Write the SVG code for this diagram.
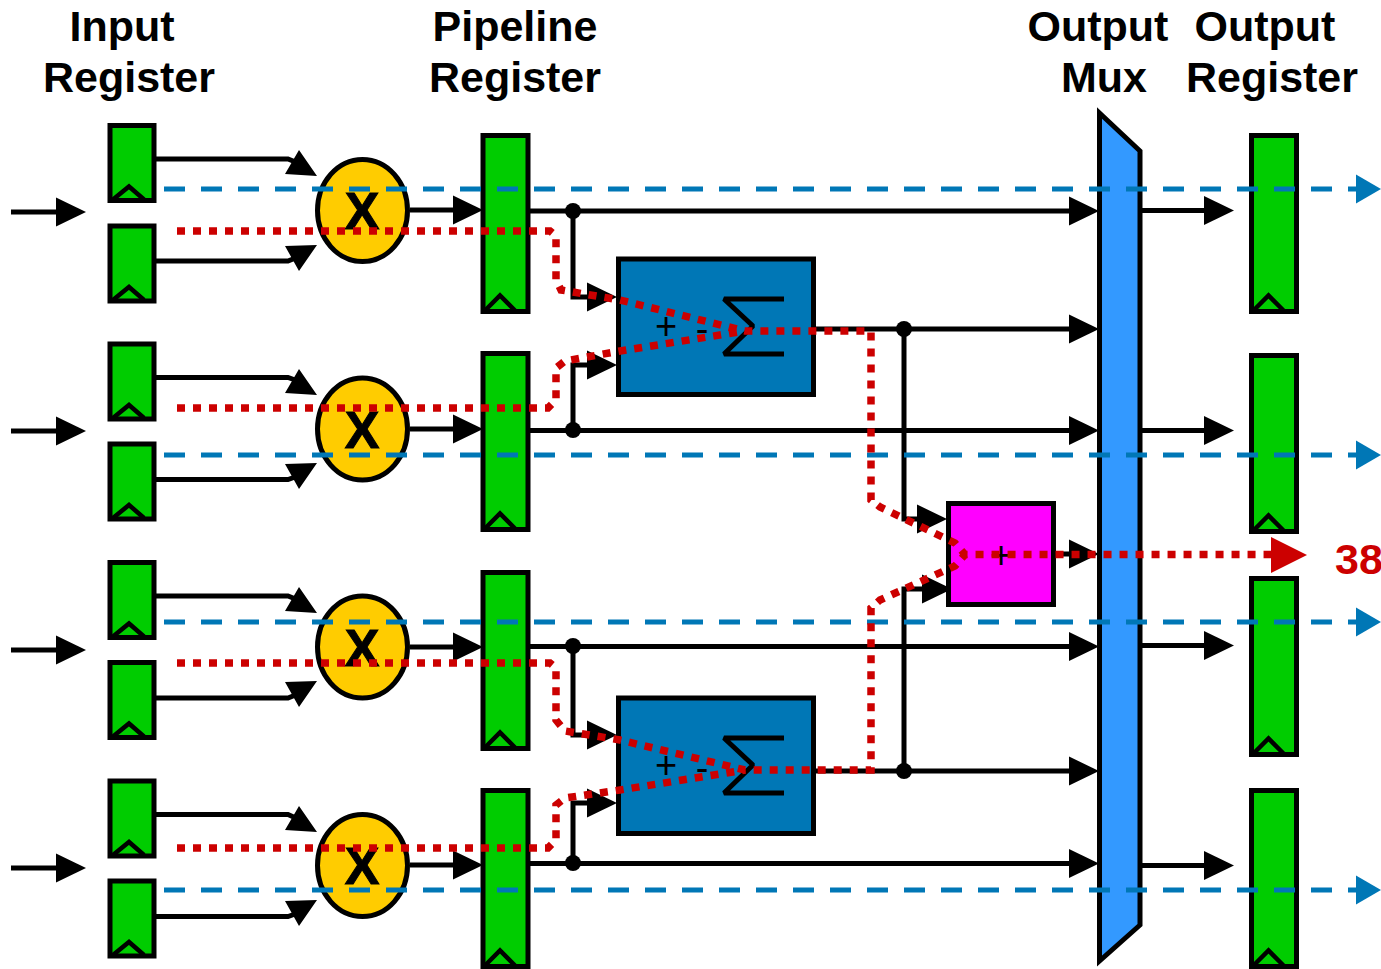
<svg xmlns="http://www.w3.org/2000/svg" width="1381" height="969" viewBox="0 0 1381 969">
<style>
.t{font-family:"Liberation Sans",Arial,sans-serif;font-weight:700;font-size:43px;fill:#000;text-anchor:middle}
.x{font-size:52px;stroke:#000;stroke-width:1}
.s{font-family:"Liberation Sans",Arial,sans-serif;font-size:38px;fill:#000;text-anchor:middle}
.w{fill:none;stroke:#000;stroke-width:5}
.reg{fill:#00cc00;stroke:#000;stroke-width:5}
.ck{fill:none;stroke:#000;stroke-width:4.5}
.mul{fill:#ffcc00;stroke:#000;stroke-width:5}
.sum{fill:#0077b6;stroke:#000;stroke-width:5}
.sig{fill:none;stroke:#000;stroke-width:5;stroke-linejoin:bevel}
.red{fill:none;stroke:#cc0000;stroke-width:7.5;stroke-dasharray:8 8}
.blue{fill:none;stroke:#0077b6;stroke-width:5;stroke-dasharray:21 16}
</style>
<defs>
<path id="h" d="M-30,-14.500L0,0L-30,14.500Z" fill="#000"/>
<path id="hb" d="M-25,-14.500L0,0L-25,14.500Z" fill="#0077b6"/>
<g id="r1"><rect class="reg" x="110" y="0" width="44" height="75"/><polyline class="ck" points="113,74 129,61 144,74"/></g>
<g id="r2"><rect class="reg" x="0" y="0" width="45" height="176"/><polyline class="ck" points="2,175 17,160 32,175"/></g>
<g id="sumb"><rect class="sum" x="618.500" y="0" width="195" height="135.500"/><polyline class="sig" points="784,40 724,40 753,67 724,95 784,95"/></g>
</defs>
<g id="titles">
<text class="t" x="122" y="41">Input</text><text class="t" x="129" y="92">Register</text>
<text class="t" x="515" y="41">Pipeline</text><text class="t" x="515" y="92">Register</text>
<text class="t" x="1098" y="41">Output</text><text class="t" x="1104" y="92">Mux</text>
<text class="t" x="1265" y="41">Output</text><text class="t" x="1272" y="92">Register</text>
</g>
<g id="connectors">
<path class="w" d="M11,212H58M11,431H58M11,650H58M11,868H58"/>
<use href="#h" x="86" y="212"/><use href="#h" x="86" y="431"/><use href="#h" x="86" y="650"/><use href="#h" x="86" y="868"/>
<path class="w" d="M155,159H288L298,163M155,261H288L298,257M155,377.500H288L298,381M155,479.500H288L298,476M155,596H288L298,600M155,698H288L298,694M155,814.500H288L298,819M155,916.500H288L298,913"/>
<path d="M317,176L299,150L285,174ZM317,245L299,271L285,246Z"/>
<path d="M317,395L299,369L285,393ZM317,463L299,489L285,464Z"/>
<path d="M317,613L299,587L285,611ZM317,681L299,707L285,682Z"/>
<path d="M317,832L299,806L285,830ZM317,900L299,926L285,901Z"/>
<path class="w" d="M410,210H456M410,429H456M410,647H456M410,865H456"/>
<use href="#h" x="483" y="210"/><use href="#h" x="483" y="429"/><use href="#h" x="483" y="647"/><use href="#h" x="483" y="865"/>
<path class="w" d="M530,211H1072M530,430.500H1072M530,646.500H1072M530,863.500H1072M816,329H1072M816,771H1072M573,211V297H592M573,430V365H592M573,646V735H592M573,863V803H592M904,329V519H922M904,771V589H926M1056,554H1072"/>
<use href="#h" x="1099" y="211"/><use href="#h" x="1099" y="430.500"/><use href="#h" x="1099" y="646.500"/><use href="#h" x="1099" y="863.500"/><use href="#h" x="1099" y="329"/><use href="#h" x="1099" y="771"/><use href="#h" x="1099" y="554"/>
<use href="#h" x="617" y="297"/><use href="#h" x="617" y="365"/><use href="#h" x="617" y="735"/><use href="#h" x="617" y="803"/>
<use href="#h" x="947" y="519"/><use href="#h" x="952" y="589"/>
<path class="w" d="M1142,210.500H1206M1142,430.500H1206M1142,645.500H1206M1142,865.500H1206"/>
<use href="#h" x="1234" y="210.500"/><use href="#h" x="1234" y="430.500"/><use href="#h" x="1234" y="645.500"/><use href="#h" x="1234" y="865.500"/>
<circle cx="573" cy="211" r="8"/><circle cx="573" cy="430" r="8"/><circle cx="573" cy="646" r="8"/><circle cx="573" cy="863" r="8"/><circle cx="904" cy="329" r="8"/><circle cx="904" cy="771" r="8"/>
</g>
<g id="input-registers">
<use id="ir1" href="#r1" y="125.500"/><use id="ir2" href="#r1" y="226"/><use id="ir3" href="#r1" y="344"/><use id="ir4" href="#r1" y="444"/><use id="ir5" href="#r1" y="562.500"/><use id="ir6" href="#r1" y="662.500"/><use id="ir7" href="#r1" y="781"/><use id="ir8" href="#r1" y="881"/>
</g>
<g id="multipliers">
<g id="m1"><ellipse class="mul" cx="362.500" cy="210.500" rx="45" ry="51"/><text class="t x" x="362" y="229">X</text></g>
<g id="m2"><ellipse class="mul" cx="362.500" cy="429" rx="45" ry="51"/><text class="t x" x="362" y="447.500">X</text></g>
<g id="m3"><ellipse class="mul" cx="362.500" cy="647" rx="45" ry="51"/><text class="t x" x="362" y="665.500">X</text></g>
<g id="m4"><ellipse class="mul" cx="362.500" cy="865.500" rx="45" ry="51"/><text class="t x" x="362" y="884">X</text></g>
</g>
<g id="pipeline-registers">
<use id="p1" href="#r2" x="483" y="135.500"/><use id="p2" href="#r2" x="483" y="353.500"/><use id="p3" href="#r2" x="483" y="572.500"/><use id="p4" href="#r2" x="483" y="790.500"/>
</g>
<g id="sums">
<g id="s1"><use href="#sumb" y="259"/><text class="s" x="666" y="339">+</text><text class="s" x="702" y="342">-</text></g>
<g id="s2"><use href="#sumb" y="698"/><text class="s" x="666" y="778">+</text><text class="s" x="702" y="781">-</text></g>
</g>
<g id="adder"><rect x="948.500" y="503.500" width="105" height="101" fill="#ff00ff" stroke="#000" stroke-width="5"/><text class="s" x="1001" y="568">+</text></g>
<g id="mux"><polygon points="1099.500,113 1140,151 1140,925 1099.500,961" fill="#3399ff" stroke="#000" stroke-width="5"/></g>
<g id="output-registers">
<use id="o1" href="#r2" x="1251.500" y="135.500"/><use id="o2" href="#r2" x="1251.500" y="355.500"/><use id="o3" href="#r2" x="1251.500" y="578.500"/><use id="o4" href="#r2" x="1251.500" y="790.500"/>
</g>
<g id="paths">
<path class="blue" d="M164,189H1358M164,455H1358M164,622H1358M164,890H1358"/>
<use href="#hb" x="1381" y="189"/><use href="#hb" x="1381" y="455"/><use href="#hb" x="1381" y="622"/><use href="#hb" x="1381" y="890"/>
<path class="red" d="M177,231H550L556,236V280L561,290L620,300L745,331H871V500L880,507L955,543L965,554.500H1272"/>
<path class="red" d="M177,408H548L556,400V368L565,361L620,351L745,331"/>
<path class="red" d="M177,663H550L556,668V720L565,731L620,740L745,770H871V608L880,600L955,566L965,554.500"/>
<path class="red" d="M177,848H548L556,840V805L565,798L620,790L745,770"/>
<path d="M1271,537L1307,555L1271,573Z" fill="#cc0000"/>
<text class="t" x="1359" y="574" style="fill:#cc0000">38</text>
</g>
</svg>
